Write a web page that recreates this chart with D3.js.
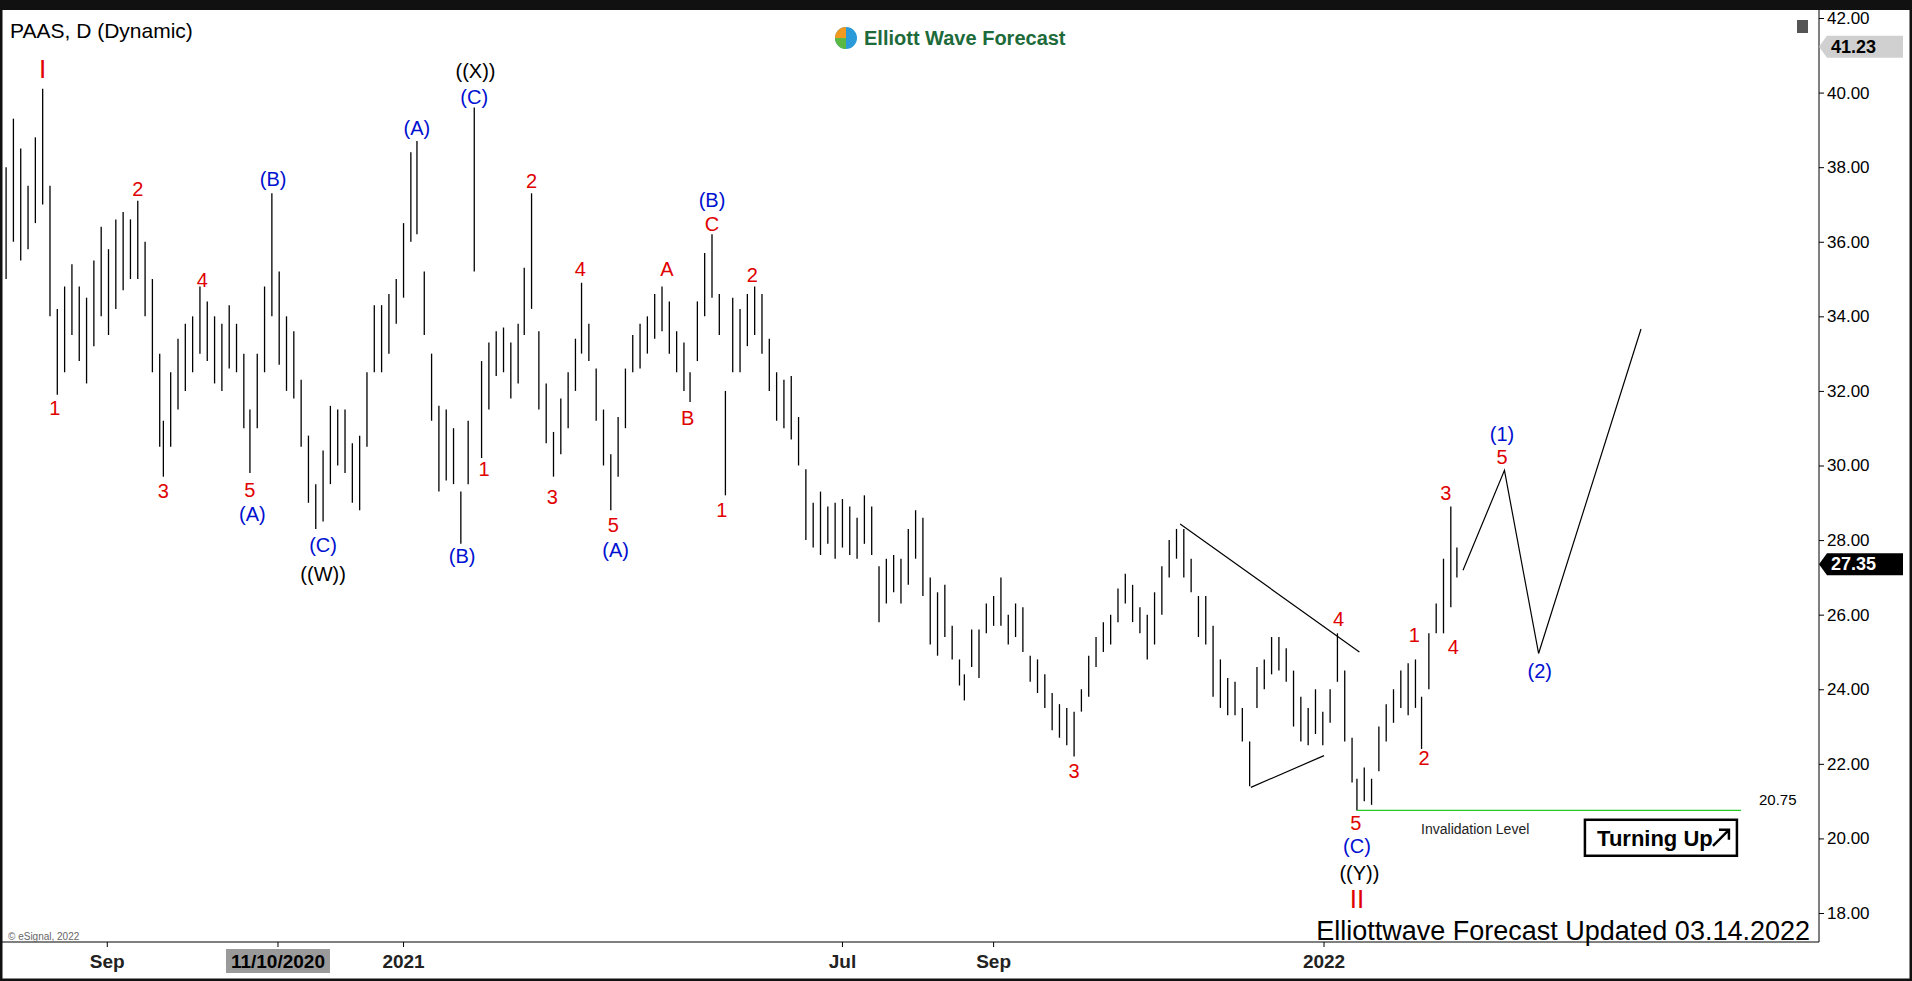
<!DOCTYPE html>
<html><head><meta charset="utf-8">
<script src="https://cdn.jsdelivr.net/npm/d3@7"></script>
<style>body{margin:0;background:#fff}svg{display:block;font-family:Arial,"Liberation Sans",sans-serif}</style>
</head><body><svg id="c" width="1912" height="981"></svg>
<script>
// bar position (chart time units), high, low
const barDay=[5,11,17,23,29,35,41,47,53,59,65,71,77,83,89,95,101,107,113,119,125,131,134,140,146,152,158,164,170,176,182,188,194,200,205,211,217,223,229,235,241,247,253,259,265,271,277,283,289,295,301,307,313,319,325,331,337,342,348,354,360,366,372,378,384,389,395,401,407,413,419,425,430,436,442,448,454,460,466,472,477,483,489,495,501,507,513,519,525,531,537,543,549,555,561,566,572,578,584,590,595,601,607,613,619,625,631,637,643,649,655,661,667,673,679,685,691,697,703,709,715,721,727,733,739,745,751,757,763,769,775,781,787,791,797,803,809,815,821,827,833,839,845,851,857,863,869,875,881,887,893,899,905,911,917,923,929,935,941,947,953,959,965,971,977,983,989,995,1001,1007,1013,1019,1025,1031,1037,1043,1049,1055,1061,1067,1073,1079,1085,1091,1097,1103,1109,1113,1119,1125,1131,1137,1143,1149,1155,1161,1166,1172,1178,1184,1190,1195];
const barHigh=[38,39.3,38.5,37.5,38.8,40.1,37.5,34.2,34.8,35.4,34.8,34.5,35.5,36.4,35.8,36.6,36.8,36.6,37.1,36,35,33,31.2,32.5,33.4,33.8,34,34.8,34.4,34,33.8,34.3,33.8,33,31.5,33,34.8,37.3,35.2,34,33.6,32.3,30.8,29.5,30.4,31.6,31.5,31.5,30.6,30.8,32.5,34.3,34.3,34.6,35,36.5,38.4,38.7,35.2,33,31.6,31.5,31,29.3,31.2,39.6,32.8,33.3,33.6,33.7,33.3,33.8,35.3,37.3,33.6,32.2,30.9,31.8,32.5,33.4,34.9,33.8,32.6,31.5,30.3,31.3,32.6,33.5,33.8,34,34.6,34.8,34.4,33.6,33.3,32.5,34.4,35.7,36.2,34.6,32,34.5,34.2,34.6,34.8,34.6,33.4,32.5,32.3,32.4,31.3,29.9,29,29.3,28.9,29,29.1,28.9,28.6,29.2,28.9,27.3,27.5,27.6,27.5,28.3,28.8,28.6,27,26.6,26.8,25.7,24.8,24.4,25.6,25.6,26.3,26.5,27,26,26.3,26.2,24.9,24.8,24.4,23.9,23.6,23.5,23.4,24,24.9,25.4,25.8,26,26.7,27.1,26.8,26.2,26,26.6,27.3,28,28.3,28.3,27.5,26.5,26.5,25.7,24.8,24.3,24.2,23.5,22.6,24.6,24.8,25.4,25.4,25.1,24.5,23.8,23.5,24,23.4,24,25.5,24.5,22.7,21.6,21.9,21.6,23,23.6,24,24.5,24.7,24.8,23.8,25.5,26.3,27.5,28.9,27.8];
const barLow=[35,36,35.5,35.8,36.5,37,34,31.9,32.5,33.5,32.8,32.2,33.2,34,33.5,34.2,34.7,35,35,34,32.5,30.5,29.7,30.5,31.5,32,32.5,33,32.8,32.2,32,32.6,32.5,31,29.8,31,32.5,34,32.7,32,31.8,30.5,29,28.3,28.5,29.5,30,29.8,29,28.8,30.5,32.5,32.5,33,33.8,34.5,36,36.2,33.5,31.2,29.3,29.6,29.5,27.9,29.5,35.2,30.2,31.5,32.4,32.5,31.8,32.2,33.5,34.2,31.5,30.6,29.7,30.3,31,32,33,32.8,31.2,30,28.8,29.7,31,32.5,32.6,33,33.4,33.6,33,32.5,32,31.7,32.8,34,34.5,33.5,29.2,32.5,32.5,33.2,33.5,33,32,31.2,31,30.7,30,28,27.8,27.6,27.9,27.5,27.8,27.6,27.5,27.9,27.6,25.8,26.3,26.6,26.3,26.8,27.5,26.5,25.2,24.9,25.4,24.8,24.1,23.7,24.6,24.3,25.5,25.7,25.7,25.2,25.4,25,24.2,23.9,23.5,22.9,22.7,22.5,22.2,23.4,23.8,24.6,25,25.2,25.8,26.3,25.8,25.5,24.8,25.2,26,27,27.5,27,26.6,25.4,25.2,23.8,23.5,23.3,23.3,22.6,21.4,23.5,24,24.4,24.5,24.2,23,22.6,22.5,22.8,22.5,23.1,24.2,22.6,21.5,20.75,21,20.9,21.8,22.6,23.1,23.5,23.3,23.5,22.4,24,25.5,25.5,26.2,27];
const yTicks=[18,20,22,24,26,28,30,32,34,36,38,40,42];
const xTickDay=[88,228,331,691,815,1086];
const xTickLabel=["Sep","11/10/2020","2021","Jul","Sep","2022"];
// wave labels: day, price, text, colour, size
const waveLabels=[
[35,40.63,"I","#e00000",26],[45,31.54,"1","#e00000",20],[113,37.42,"2","#e00000",20],[134,29.31,"3","#e00000",20],
[166,34.97,"4","#e00000",20],[205,29.34,"5","#e00000",20],[207,28.69,"(A)","#0010d0",20],[224,37.68,"(B)","#0010d0",20],
[265,27.87,"(C)","#0010d0",20],[265,27.09,"((W))","#000",20],[342,39.06,"(A)","#0010d0",20],[390,40.59,"((X))","#000",20],
[389,39.87,"(C)","#0010d0",20],[379,27.58,"(B)","#0010d0",20],[397,29.9,"1","#e00000",20],[436,37.62,"2","#e00000",20],
[453,29.15,"3","#e00000",20],[476,35.26,"4","#e00000",20],[503,28.4,"5","#e00000",20],[505,27.74,"(A)","#0010d0",20],
[547,35.26,"A","#e00000",20],[564,31.27,"B","#e00000",20],[584,37.13,"(B)","#0010d0",20],[584,36.47,"C","#e00000",20],
[617,35.1,"2","#e00000",20],[592,28.82,"1","#e00000",20],[881,21.82,"3","#e00000",20],[1098,25.88,"4","#e00000",20],
[1112,20.42,"5","#e00000",20],[1113,19.8,"(C)","#0010d0",20],[1115,19.08,"((Y))","#000",20],[1113,18.39,"II","#e00000",26],
[1160,25.45,"1","#e00000",20],[1168,22.15,"2","#e00000",20],[1186,29.25,"3","#e00000",20],[1192,25.13,"4","#e00000",20],
[1232,30.23,"5","#e00000",20],[1232,30.85,"(1)","#0010d0",20],[1263,24.5,"(2)","#0010d0",20]];
const triUpper=[[968,28.43],[1115,25.0]];
const triLower=[[1026,21.37],[1086,22.22]];
const projection=[[1200,27.19],[1234,29.87],[1262,24.96],[1346,33.66]];
const invalidation=20.75;
const lastPrice=27.35, hiPrice=41.23;

const svg=d3.select("#c");
const W=1912,H=981,plotR=1819,plotB=942;
svg.append("rect").attr("width",W).attr("height",H).attr("fill","#fff");
const x=d3.scaleLinear().domain([0,1492]).range([0,plotR]);
const y=d3.scaleLinear().domain([18,42]).range([913,18]);
const g=svg.append("g");
g.selectAll("line.bar").data(barDay).join("line").attr("class","bar")
 .attr("x1",d=>x(d)).attr("x2",d=>x(d))
 .attr("y1",(d,i)=>y(barHigh[i])).attr("y2",(d,i)=>y(barLow[i]))
 .attr("stroke","#000").attr("stroke-width",1.3);
const line=d3.line().x(d=>x(d[0])).y(d=>y(d[1]));
[triUpper,triLower].forEach(p=>g.append("path").attr("d",line(p)).attr("stroke","#000").attr("fill","none").attr("stroke-width",1.2));
g.append("path").attr("d",line(projection)).attr("stroke","#000").attr("fill","none").attr("stroke-width",1.2);
g.append("line").attr("x1",x(1113)).attr("x2",x(1428)).attr("y1",y(invalidation)).attr("y2",y(invalidation)).attr("stroke","#22cc22").attr("stroke-width",1.3);
g.append("text").attr("x",x(1428)+18).attr("y",y(invalidation)-5).attr("font-size",15).text(invalidation.toFixed(2));
g.append("text").attr("x",x(1210)).attr("y",y(20.25)+5).attr("text-anchor","middle").attr("font-size",14).attr("fill","#222").text("Invalidation Level");
const tb=g.append("g").attr("transform",`translate(${x(1300)},${y(20.5)})`);
tb.append("rect").attr("width",152).attr("height",36).attr("fill","#fff").attr("stroke","#000").attr("stroke-width",2.5);
tb.append("text").attr("x",70).attr("y",26).attr("text-anchor","middle").attr("font-size",22).attr("font-weight","bold").text("Turning Up");
tb.append("path").attr("d","M128 26 L144 10 M134 10 L144 10 L144 20").attr("stroke","#000").attr("stroke-width",2.5).attr("fill","none");
g.selectAll("text.w").data(waveLabels).join("text").attr("class","w")
 .attr("x",d=>x(d[0])).attr("y",d=>y(d[1])).attr("dy","0.35em").attr("text-anchor","middle")
 .attr("fill",d=>d[3]).attr("font-size",d=>d[4]).text(d=>d[2]);
svg.append("line").attr("x1",plotR).attr("x2",plotR).attr("y1",10).attr("y2",plotB).attr("stroke","#000");
svg.append("line").attr("x1",0).attr("x2",plotR).attr("y1",plotB).attr("y2",plotB).attr("stroke","#000");
svg.append("rect").attr("x",1).attr("y",1).attr("width",W-2).attr("height",H-2).attr("fill","none").attr("stroke","#111").attr("stroke-width",3);
svg.append("rect").attr("x",0).attr("y",0).attr("width",W).attr("height",10).attr("fill","#111");
const ya=svg.append("g").attr("transform",`translate(${plotR},0)`).call(d3.axisRight(y).tickValues(yTicks).tickFormat(d3.format(".2f")).tickSize(5));
ya.select(".domain").remove();
ya.selectAll("text").attr("font-size",17).attr("font-family","Arial,sans-serif").attr("fill","#000");
function pbox(v,fill,col){const gg=svg.append("g").attr("transform",`translate(${plotR},${y(v)})`);
 gg.append("path").attr("d","M0 0 L8 -11 L84 -11 L84 11 L8 11 Z").attr("fill",fill);
 gg.append("text").attr("x",12).attr("y",6).attr("font-size",18).attr("font-weight","bold").attr("fill",col).text(v.toFixed(2));}
pbox(hiPrice,"#d0d0d0","#000");pbox(lastPrice,"#000","#fff");
const xa=svg.append("g").attr("transform",`translate(0,${plotB})`);
xTickDay.forEach((d,i)=>{
 xa.append("line").attr("x1",x(d)).attr("x2",x(d)).attr("y1",0).attr("y2",5).attr("stroke","#000");
 if(i===1){xa.append("rect").attr("x",x(d)-52).attr("y",7).attr("width",104).attr("height",24).attr("fill","#9a9a9a");}
 xa.append("text").attr("x",x(d)).attr("y",26).attr("text-anchor","middle").attr("font-size",19).attr("font-weight","bold").attr("fill",i===1?"#000":"#222").text(xTickLabel[i]);
});
svg.append("text").attr("x",10).attr("y",38).attr("font-size",21).text("PAAS, D (Dynamic)");
const logo=svg.append("g").attr("transform","translate(846,38)");
logo.append("circle").attr("cx",0).attr("cy",0).attr("r",11).attr("fill","#2a9ad8");
logo.append("path").attr("d","M-11 0 A11 11 0 0 1 0 -11 L0 0 Z").attr("fill","#f29a1f");
logo.append("path").attr("d","M0 11 A11 11 0 0 1 -11 0 L0 0Z").attr("fill","#5bb845");
logo.append("text").attr("x",18).attr("y",7).attr("font-size",20).attr("font-weight","bold").attr("fill","#1d6a3a").text("Elliott Wave Forecast");
svg.append("text").attr("x",1810).attr("y",940).attr("text-anchor","end").attr("font-size",27).attr("fill","#000").text("Elliottwave Forecast Updated 03.14.2022");
svg.append("text").attr("x",8).attr("y",940).attr("font-size",10).attr("fill","#666").text("© eSignal, 2022");
svg.append("rect").attr("x",1797).attr("y",20).attr("width",11).attr("height",13).attr("fill","#555");
</script></body></html>
